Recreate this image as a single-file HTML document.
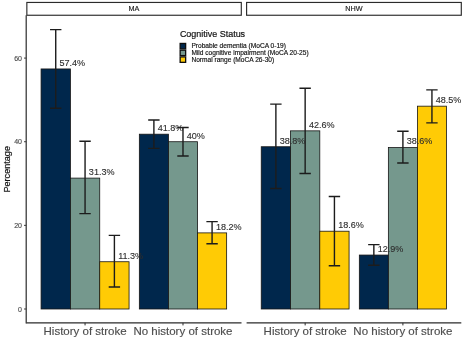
<!DOCTYPE html>
<html><head><meta charset="utf-8"><title>Cognitive Status</title>
<style>html,body{margin:0;padding:0;background:#fff}body{width:469px;height:340px;overflow:hidden}</style></head>
<body>
<svg width="469" height="340" viewBox="0 0 469 340" style="display:block;font-family:'Liberation Sans', sans-serif;filter:blur(0.35px)">
<rect width="469" height="340" fill="#fff"/>
<rect x="26.85" y="2.45" width="214.45" height="12.80" fill="#fff" stroke="#2b2b2b" stroke-width="1.15"/>
<text x="133.95" y="11.3" font-size="7.25" text-anchor="middle" fill="#1a1a1a" stroke="#1a1a1a" stroke-width="0.15">MA</text>
<line x1="26.40" x2="241.50" y1="322.8" y2="322.8" stroke="#2b2b2b" stroke-width="1.25"/>
<line x1="85.06" x2="85.06" y1="322.8" y2="325.40" stroke="#2b2b2b" stroke-width="1"/>
<text x="85.06" y="334.75" font-size="11.5" text-anchor="middle" fill="#4d4d4d" stroke="#4d4d4d" stroke-width="0.15">History of stroke</text>
<line x1="182.99" x2="182.99" y1="322.8" y2="325.40" stroke="#2b2b2b" stroke-width="1"/>
<text x="182.99" y="334.75" font-size="11.5" text-anchor="middle" fill="#4d4d4d" stroke="#4d4d4d" stroke-width="0.15">No history of stroke</text>
<rect x="246.60" y="2.45" width="214.70" height="12.80" fill="#fff" stroke="#2b2b2b" stroke-width="1.15"/>
<text x="353.95" y="11.3" font-size="7.25" text-anchor="middle" fill="#1a1a1a" stroke="#1a1a1a" stroke-width="0.15">NHW</text>
<line x1="246.60" x2="461.30" y1="322.8" y2="322.8" stroke="#2b2b2b" stroke-width="1.25"/>
<line x1="305.15" x2="305.15" y1="322.8" y2="325.40" stroke="#2b2b2b" stroke-width="1"/>
<text x="305.15" y="334.75" font-size="11.5" text-anchor="middle" fill="#4d4d4d" stroke="#4d4d4d" stroke-width="0.15">History of stroke</text>
<line x1="402.90" x2="402.90" y1="322.8" y2="325.40" stroke="#2b2b2b" stroke-width="1"/>
<text x="402.90" y="334.75" font-size="11.5" text-anchor="middle" fill="#4d4d4d" stroke="#4d4d4d" stroke-width="0.15">No history of stroke</text>
<rect x="41.07" y="68.95" width="29.33" height="240.05" fill="#00274C" stroke="#151515" stroke-width="0.8"/>
<rect x="70.40" y="178.10" width="29.33" height="130.90" fill="#75988D" stroke="#151515" stroke-width="0.8"/>
<rect x="99.73" y="261.74" width="29.33" height="47.26" fill="#FFCB05" stroke="#151515" stroke-width="0.8"/>
<rect x="139.34" y="134.19" width="29.10" height="174.81" fill="#00274C" stroke="#151515" stroke-width="0.8"/>
<rect x="168.44" y="141.72" width="29.10" height="167.28" fill="#75988D" stroke="#151515" stroke-width="0.8"/>
<rect x="197.54" y="232.89" width="29.10" height="76.11" fill="#FFCB05" stroke="#151515" stroke-width="0.8"/>
<rect x="261.24" y="146.74" width="29.28" height="162.26" fill="#00274C" stroke="#151515" stroke-width="0.8"/>
<rect x="290.52" y="130.85" width="29.28" height="178.15" fill="#75988D" stroke="#151515" stroke-width="0.8"/>
<rect x="319.79" y="231.21" width="29.28" height="77.79" fill="#FFCB05" stroke="#151515" stroke-width="0.8"/>
<rect x="359.33" y="255.05" width="29.04" height="53.95" fill="#00274C" stroke="#151515" stroke-width="0.8"/>
<rect x="388.37" y="147.57" width="29.04" height="161.43" fill="#75988D" stroke="#151515" stroke-width="0.8"/>
<rect x="417.42" y="106.17" width="29.04" height="202.83" fill="#FFCB05" stroke="#151515" stroke-width="0.8"/>
<path d="M50.03 29.64H61.43M50.03 108.26H61.43M55.73 29.64V108.26" stroke="#1c1c1c" stroke-width="1.4" fill="none"/>
<path d="M79.36 141.30H90.76M79.36 213.65H90.76M85.06 141.30V213.65" stroke="#1c1c1c" stroke-width="1.4" fill="none"/>
<path d="M108.70 235.40H120.10M108.70 287.04H120.10M114.40 235.40V287.04" stroke="#1c1c1c" stroke-width="1.4" fill="none"/>
<path d="M148.19 119.97H159.59M148.19 148.41H159.59M153.89 119.97V148.41" stroke="#1c1c1c" stroke-width="1.4" fill="none"/>
<path d="M177.29 127.50H188.69M177.29 155.94H188.69M182.99 127.50V155.94" stroke="#1c1c1c" stroke-width="1.4" fill="none"/>
<path d="M206.38 221.60H217.78M206.38 243.76H217.78M212.08 221.60V243.76" stroke="#1c1c1c" stroke-width="1.4" fill="none"/>
<path d="M270.18 104.08H281.58M270.18 188.56H281.58M275.88 104.08V188.56" stroke="#1c1c1c" stroke-width="1.4" fill="none"/>
<path d="M299.45 88.19H310.85M299.45 173.50H310.85M305.15 88.19V173.50" stroke="#1c1c1c" stroke-width="1.4" fill="none"/>
<path d="M328.73 196.50H340.13M328.73 265.72H340.13M334.43 196.50V265.72" stroke="#1c1c1c" stroke-width="1.4" fill="none"/>
<path d="M368.15 244.60H379.55M368.15 265.30H379.55M373.85 244.60V265.30" stroke="#1c1c1c" stroke-width="1.4" fill="none"/>
<path d="M397.20 131.26H408.60M397.20 163.05H408.60M402.90 131.26V163.05" stroke="#1c1c1c" stroke-width="1.4" fill="none"/>
<path d="M426.24 89.86H437.64M426.24 122.90H437.64M431.94 89.86V122.90" stroke="#1c1c1c" stroke-width="1.4" fill="none"/>
<text x="59.53" y="65.75" font-size="9.05" fill="#2e2e2e" stroke="#2e2e2e" stroke-width="0.12">57.4%</text>
<text x="88.86" y="174.90" font-size="9.05" fill="#2e2e2e" stroke="#2e2e2e" stroke-width="0.12">31.3%</text>
<text x="118.20" y="258.54" font-size="9.05" fill="#2e2e2e" stroke="#2e2e2e" stroke-width="0.12">11.3%</text>
<text x="157.69" y="130.99" font-size="9.05" fill="#2e2e2e" stroke="#2e2e2e" stroke-width="0.12">41.8%</text>
<text x="186.79" y="138.52" font-size="9.05" fill="#2e2e2e" stroke="#2e2e2e" stroke-width="0.12">40%</text>
<text x="215.88" y="229.69" font-size="9.05" fill="#2e2e2e" stroke="#2e2e2e" stroke-width="0.12">18.2%</text>
<text x="279.68" y="143.54" font-size="9.05" fill="#2e2e2e" stroke="#2e2e2e" stroke-width="0.12">38.8%</text>
<text x="308.95" y="127.65" font-size="9.05" fill="#2e2e2e" stroke="#2e2e2e" stroke-width="0.12">42.6%</text>
<text x="338.23" y="228.01" font-size="9.05" fill="#2e2e2e" stroke="#2e2e2e" stroke-width="0.12">18.6%</text>
<text x="377.65" y="251.85" font-size="9.05" fill="#2e2e2e" stroke="#2e2e2e" stroke-width="0.12">12.9%</text>
<text x="406.70" y="144.37" font-size="9.05" fill="#2e2e2e" stroke="#2e2e2e" stroke-width="0.12">38.6%</text>
<text x="435.74" y="102.97" font-size="9.05" fill="#2e2e2e" stroke="#2e2e2e" stroke-width="0.12">48.5%</text>
<line x1="26.2" x2="26.2" y1="15.25" y2="323.40000000000003" stroke="#2b2b2b" stroke-width="1.2"/>
<line x1="24.0" x2="26.2" y1="309.00" y2="309.00" stroke="#2b2b2b" stroke-width="0.9"/>
<text x="22" y="311.50" font-size="7" text-anchor="end" fill="#4d4d4d" stroke="#4d4d4d" stroke-width="0.15">0</text>
<line x1="24.0" x2="26.2" y1="225.36" y2="225.36" stroke="#2b2b2b" stroke-width="0.9"/>
<text x="22" y="227.86" font-size="7" text-anchor="end" fill="#4d4d4d" stroke="#4d4d4d" stroke-width="0.15">20</text>
<line x1="24.0" x2="26.2" y1="141.72" y2="141.72" stroke="#2b2b2b" stroke-width="0.9"/>
<text x="22" y="144.22" font-size="7" text-anchor="end" fill="#4d4d4d" stroke="#4d4d4d" stroke-width="0.15">40</text>
<line x1="24.0" x2="26.2" y1="58.08" y2="58.08" stroke="#2b2b2b" stroke-width="0.9"/>
<text x="22" y="60.58" font-size="7" text-anchor="end" fill="#4d4d4d" stroke="#4d4d4d" stroke-width="0.15">60</text>
<text transform="translate(9.8 169.3) rotate(-90)" font-size="9.1" text-anchor="middle" fill="#111" stroke="#111" stroke-width="0.2">Percentage</text>
<text x="179.9" y="36.95" font-size="9.6" textLength="65.2" lengthAdjust="spacingAndGlyphs" fill="#111" stroke="#111" stroke-width="0.2">Cognitive Status</text>
<rect x="180.15" y="43.45" width="5.5" height="5.43" fill="#00274C" stroke="#0d0d0d" stroke-width="1.3"/>
<text x="191.4" y="48.20" font-size="6.6" fill="#111" stroke="#111" stroke-width="0.15">Probable dementia (MoCA 0-19)</text>
<rect x="180.15" y="50.18" width="5.5" height="5.43" fill="#75988D" stroke="#0d0d0d" stroke-width="1.3"/>
<text x="191.4" y="55.00" font-size="6.6" fill="#111" stroke="#111" stroke-width="0.15">Mild cognitive impairment (MoCA 20-25)</text>
<rect x="180.15" y="56.91" width="5.5" height="5.43" fill="#FFCB05" stroke="#0d0d0d" stroke-width="1.3"/>
<text x="191.4" y="61.80" font-size="6.6" fill="#111" stroke="#111" stroke-width="0.15">Normal range (MoCA 26-30)</text>
</svg>
</body></html>
